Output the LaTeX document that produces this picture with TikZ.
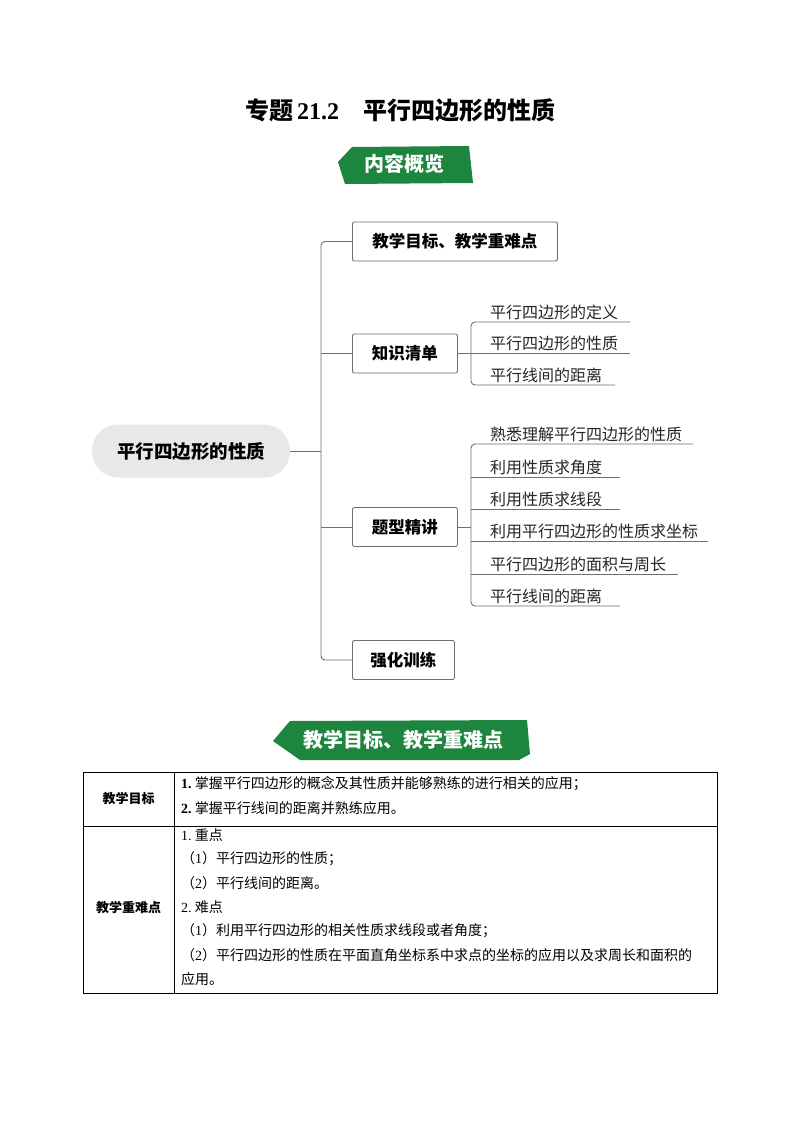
\documentclass[tikz,border=0pt]{standalone}
\usepackage{fontspec}
\setmainfont{Liberation Serif}
\newfontfamily\cjk{Noto Sans CJK SC}
\definecolor{bannergreen}{RGB}{30,133,62}
\definecolor{pillgrey}{RGB}{232,232,232}
\definecolor{linegrey}{RGB}{110,110,110}
\begin{document}
\begin{tikzpicture}[x=1pt,y=-1pt,
  box/.style={draw=linegrey,line width=0.9pt,rounded corners=2pt,minimum height=39pt,inner xsep=0pt,anchor=west,font=\cjk\bfseries\fontsize{16.5}{16.5}\selectfont},
  leaf/.style={anchor=south west,inner sep=2pt,font=\cjk\fontsize{16}{16}\selectfont,text=black!85},
  conn/.style={draw=linegrey,line width=0.9pt,rounded corners=4pt},
  cell/.style={anchor=west,inner sep=0pt,font=\cjk\fontsize{14}{14}\selectfont},
  banner/.style={fill=bannergreen},
  btext/.style={text=white,font=\cjk\bfseries\fontsize{20}{20}\selectfont}]
\useasboundingbox (0,0) rectangle (800,1132);
\fill[white] (0,0) rectangle (800,1132);
% title
\node (title) at (400,110) {\cjk\bfseries\fontsize{24}{24}\selectfont 专题\,{\rmfamily\bfseries 21.2}\quad 平行四边形的性质};
% banner 1
\fill[banner] (352,147) -- (469,146) -- (473,183) -- (345,184) -- (338,162) -- cycle;
\node[btext] (b1) at (404,164) {内容概览};
% root
\node[fill=pillgrey,rounded corners=26pt,minimum width=198pt,minimum height=53pt,font=\cjk\bfseries\fontsize{18.5}{18.5}\selectfont] (root) at (191,451) {平行四边形的性质};
% level 1 boxes
\node[box,minimum width=205pt] (k1) at (352,241.5) {教学目标、教学重难点};
\node[box,minimum width=105pt] (k2) at (352,353.5) {知识清单};
\node[box,minimum width=105pt] (k3) at (352,527) {题型精讲};
\node[box,minimum width=102pt] (k4) at (352,660) {强化训练};
\coordinate (tr) at (321,451);
\draw[conn] (root.east) -- (tr);
\draw[conn] (k1.west) -| (tr) |- (k4.west);
\draw[conn] (k2.west) -- (321,353.5);
\draw[conn] (k3.west) -- (321,527);
% knowledge leaves
\node[leaf] (a1) at (488,322) {平行四边形的定义};
\node[leaf] (a2) at (488,353) {平行四边形的性质};
\node[leaf] (a3) at (488,385) {平行线间的距离};
\draw[conn] (630,322) -- (471,322) -- (471,385) -- (615,385);
\draw[conn] (471,353) -- (630,353);
\draw[conn] (k2.east) -- (471,353.5);
% question leaves
\node[leaf] (q1) at (488,444) {熟悉理解平行四边形的性质};
\node[leaf] (q2) at (488,477) {利用性质求角度};
\node[leaf] (q3) at (488,509) {利用性质求线段};
\node[leaf] (q4) at (488,541) {利用平行四边形的性质求坐标};
\node[leaf] (q5) at (488,574) {平行四边形的面积与周长};
\node[leaf] (q6) at (488,606) {平行线间的距离};
\draw[conn] (693,444) -- (471,444) -- (471,606) -- (620,606);
\draw[conn] (471,477) -- (620,477);
\draw[conn] (471,509) -- (620,509);
\draw[conn] (471,541) -- (708,541);
\draw[conn] (471,574) -- (678,574);
\draw[conn] (k3.east) -- (471,527);
% banner 2
\fill[banner] (290,721) -- (527,720) -- (530,754) -- (519,760) -- (300,760) -- (273,741) -- cycle;
\node[btext] (b2) at (403,740) {教学目标、教学重难点};
% table
\draw[line width=0.9pt] (83,772) rectangle (717,993);
\draw[line width=0.9pt] (174,772) -- (174,993);
\draw[line width=0.9pt] (83,826) -- (717,826);
\node[cell,anchor=center,font=\cjk\bfseries\fontsize{13}{13}\selectfont] (l1) at (128.5,799) {教学目标};
\node[cell,anchor=center,font=\cjk\bfseries\fontsize{13}{13}\selectfont] (l2) at (128.5,908) {教学重难点};
\node[cell] (r1) at (181,784) {{\rmfamily\bfseries 1.}\ 掌握平行四边形的概念及其性质并能够熟练的进行相关的应用；};
\node[cell] (r2) at (181,808) {{\rmfamily\bfseries 2.}\ 掌握平行线间的距离并熟练应用。};
\node[cell] (r3) at (181,835) {{\rmfamily 1.}\ 重点};
\node[cell] (r4) at (181,859) {（{\rmfamily 1}）平行四边形的性质；};
\node[cell] (r5) at (181,883) {（{\rmfamily 2}）平行线间的距离。};
\node[cell] (r6) at (181,907) {{\rmfamily 2.}\ 难点};
\node[cell] (r7) at (181,931) {（{\rmfamily 1}）利用平行四边形的相关性质求线段或者角度；};
\node[cell] (r8) at (181,955) {（{\rmfamily 2}）平行四边形的性质在平面直角坐标系中求点的坐标的应用以及求周长和面积的};
\node[cell] (r9) at (181,979) {应用。};
\end{tikzpicture}
\end{document}
